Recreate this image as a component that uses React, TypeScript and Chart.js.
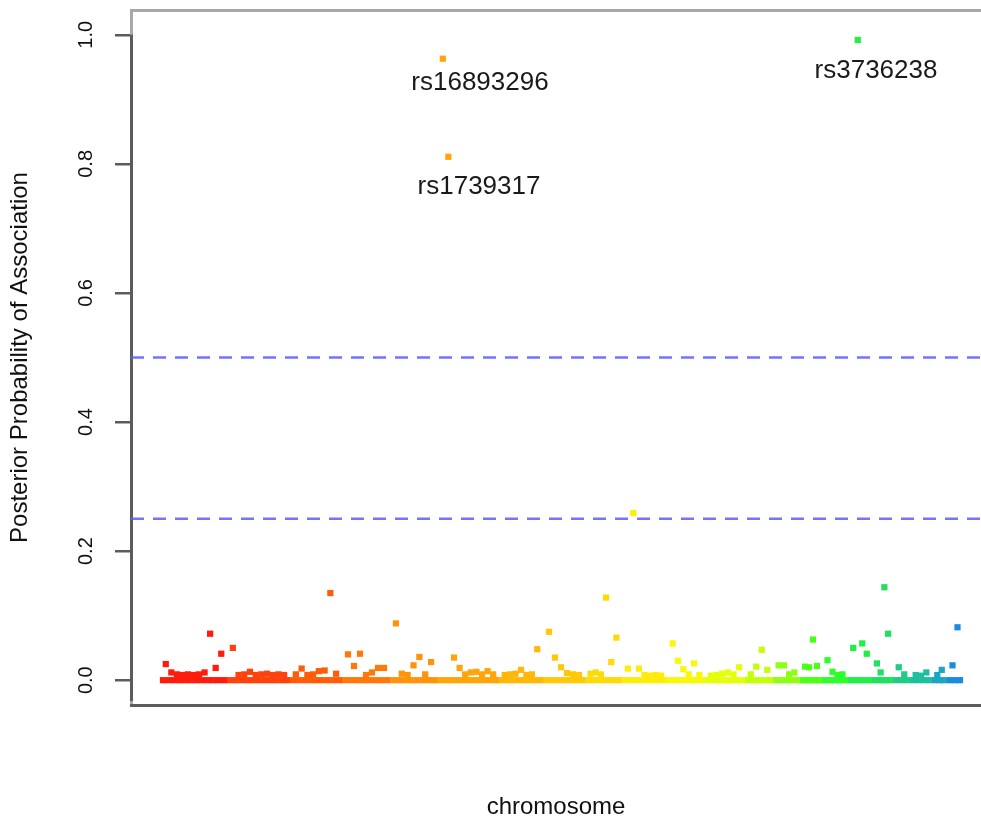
import React, { useEffect, useRef } from 'react';
import { Chart, registerables } from 'chart.js';

Chart.register(...registerables);

// ---- data ----
const chromosomes = ['1','2','3','4','5','6','7','8','9','10','11','12','13','14','15','16','17','18','19','20','21','22'];
const chromLengths = [67, 63, 52, 48, 47, 62, 44, 42, 37, 45, 38, 40, 28, 27, 22, 26, 24, 21, 17, 22, 15, 16];
const chromColors = [
  '#FF1C0C', '#FF420C', '#FF5C0A', '#FF780A', '#FF930A', '#FFA50A', '#FFB80A', '#FFC80A',
  '#FFDA0A', '#FFEC0A', '#F8F80A', '#E4FF0A', '#C4FF0A', '#8EFF12', '#4CFF18', '#2CFF2C',
  '#22EE48', '#20E060', '#1ECC84', '#1EBFA0', '#1CA6C2', '#1A8CE0',
];

const chr1 = [0.000, 0.025, 0.000, 0.012, 0.000, 0.009, 0.000, 0.008, 0.000, 0.009, 0.000, 0.008, 0.000, 0.009, 0.000, 0.012, 0.000, 0.072, 0.000, 0.019, 0.000, 0.041, 0.000];
const chr2 = [0.000, 0.050, 0.000, 0.008, 0.000, 0.009, 0.000, 0.013, 0.000, 0.008, 0.000, 0.009, 0.000, 0.010, 0.000, 0.008, 0.000, 0.009, 0.000, 0.008, 0.000];
const chr3 = [0.000, 0.009, 0.000, 0.018, 0.000, 0.008, 0.000, 0.009, 0.000, 0.014, 0.000, 0.015, 0.000, 0.135, 0.000, 0.010, 0.000];
const chr4 = [0.000, 0.040, 0.000, 0.022, 0.000, 0.041, 0.000, 0.008, 0.000, 0.012, 0.000, 0.019, 0.000, 0.019, 0.000];
const chr5 = [0.000, 0.088, 0.000, 0.010, 0.000, 0.008, 0.000, 0.023, 0.000, 0.036, 0.000, 0.009, 0.000, 0.028, 0.000];
const chr6 = [0.000, 0.963, 0.000, 0.811, 0.000, 0.035, 0.000, 0.019, 0.000, 0.009, 0.000, 0.012, 0.000, 0.013, 0.000, 0.009, 0.000, 0.014, 0.000, 0.009, 0.000];
const chr7 = [0.000, 0.008, 0.000, 0.009, 0.000, 0.010, 0.000, 0.016, 0.000, 0.008, 0.000, 0.009, 0.000, 0.048, 0.000];
const chr8 = [0.000, 0.075, 0.000, 0.035, 0.000, 0.020, 0.000, 0.011, 0.000, 0.009, 0.000, 0.008, 0.000];
const chr9 = [0.000, 0.010, 0.000, 0.012, 0.000, 0.009, 0.000, 0.128, 0.000, 0.028, 0.000, 0.066, 0.000];
const chr10 = [0.000, 0.018, 0.000, 0.259, 0.000, 0.018, 0.000, 0.008, 0.000, 0.007, 0.000, 0.008, 0.000, 0.007, 0.000];
const chr11 = [0.000, 0.057, 0.000, 0.030, 0.000, 0.017, 0.000, 0.009, 0.000, 0.026, 0.000, 0.008, 0.000];
const chr12 = [0.000, 0.007, 0.000, 0.008, 0.000, 0.010, 0.000, 0.012, 0.000, 0.009, 0.000, 0.020, 0.000];
const chr13 = [0.000, 0.009, 0.000, 0.021, 0.000, 0.047, 0.000, 0.016, 0.000];
const chr14 = [0.000, 0.023, 0.000, 0.023, 0.000, 0.009, 0.000, 0.012, 0.000];
const chr15 = [0.000, 0.021, 0.000, 0.020, 0.000, 0.063, 0.000, 0.022, 0.000];
const chr16 = [0.000, 0.031, 0.000, 0.013, 0.000, 0.008, 0.000, 0.009, 0.000];
const chr17 = [0.000, 0.050, 0.000, 0.992, 0.000, 0.057, 0.000, 0.041, 0.000];
const chr18 = [0.000, 0.026, 0.000, 0.012, 0.000, 0.144, 0.000, 0.072, 0.000];
const chr19 = [0.000, 0.020, 0.000, 0.009, 0.000];
const chr20 = [0.000, 0.008, 0.000, 0.007, 0.000, 0.012, 0.000];
const chr21 = [0.000, 0.008, 0.000, 0.016, 0.000];
const chr22 = [0.000, 0.023, 0.000, 0.082, 0.000];

const chromValues = [chr1, chr2, chr3, chr4, chr5, chr6, chr7, chr8, chr9, chr10, chr11,
  chr12, chr13, chr14, chr15, chr16, chr17, chr18, chr19, chr20, chr21, chr22];

const thresholds = [0.5, 0.25];
const yTicks = [0, 0.2, 0.4, 0.6, 0.8, 1.0];

const labelTexts = ['rs16893296', 'rs1739317', 'rs3736238'];
const labelPositions = [320, 319, 716];
const labelValues = [0.926, 0.764, 0.944];

// ---- layout constants ----
const X_MIN = -29;
const X_MAX = 821;
const Y_MIN = -0.04;
const Y_MAX = 1.04;
const FONT = '"Liberation Sans", Arial, Helvetica, sans-serif';

function buildDatasets() {
  const sets: any[] = [];
  let start = 0;
  chromValues.forEach((vals, c) => {
    const len = chromLengths[c];
    const n = vals.length;
    const step = n > 1 ? (len - 6) / (n - 1) : 0;
    sets.push({
      label: 'chr' + chromosomes[c],
      data: vals.map((v, j) => ({ x: start + 3 + j * step, y: v })),
      backgroundColor: chromColors[c],
      borderWidth: 0,
      pointStyle: 'rect',
      pointRadius: 4.4,
      pointHoverRadius: 4.4,
      order: 1,
    });
    start += len;
  });
  thresholds.forEach((t) => {
    sets.push({
      label: 'threshold ' + t,
      data: [{ x: X_MIN, y: t }, { x: X_MAX, y: t }],
      showLine: true,
      borderColor: 'rgba(90,90,255,0.85)',
      borderWidth: 2.5,
      borderDash: [13, 9],
      pointRadius: 0,
      order: 2,
    });
  });
  return sets;
}

const framePlugin = {
  id: 'frame',
  beforeDatasetsDraw(chart: any) {
    const { ctx, chartArea } = chart;
    const { left, top, right, bottom } = chartArea;
    const y = chart.scales.y;
    ctx.save();
    ctx.lineWidth = 3;
    ctx.strokeStyle = '#a8a8a8';
    ctx.beginPath();
    ctx.moveTo(left + 0.5, bottom);
    ctx.lineTo(left + 0.5, top + 1.5);
    ctx.lineTo(right, top + 1.5);
    ctx.stroke();
    ctx.strokeStyle = '#5c5c5c';
    ctx.beginPath();
    ctx.moveTo(left + 0.5, y.getPixelForValue(1.0));
    ctx.lineTo(left + 0.5, bottom - 5);
    ctx.stroke();
    ctx.beginPath();
    ctx.moveTo(left - 1, bottom - 0.5);
    ctx.lineTo(right, bottom - 0.5);
    ctx.stroke();
    ctx.restore();
  },
};

const labelPlugin = {
  id: 'snpLabels',
  afterDatasetsDraw(chart: any) {
    const { ctx, scales } = chart;
    ctx.save();
    ctx.font = '26px ' + FONT;
    ctx.fillStyle = '#1a1a1a';
    ctx.textAlign = 'center';
    ctx.textBaseline = 'middle';
    labelTexts.forEach((t, i) => {
      ctx.fillText(t, scales.x.getPixelForValue(labelPositions[i]), scales.y.getPixelForValue(labelValues[i]));
    });
    ctx.restore();
  },
};

export default function App() {
  const ref = useRef<HTMLCanvasElement | null>(null);
  useEffect(() => {
    if (!ref.current) return;
    const chart = new Chart(ref.current, {
      type: 'scatter',
      data: { datasets: buildDatasets() },
      options: {
        responsive: false,
        maintainAspectRatio: false,
        devicePixelRatio: 1,
        animation: false,
        layout: { autoPadding: false, padding: { top: 9, right: 0, bottom: 0, left: 0 } },
        plugins: {
          legend: { display: false },
          tooltip: { enabled: false },
        },
        scales: {
          x: {
            type: 'linear',
            min: X_MIN,
            max: X_MAX,
            ticks: { display: false },
            grid: { display: false },
            border: { display: false },
            title: {
              display: true,
              text: 'chromosome',
              color: '#111',
              font: { family: FONT, size: 24, lineHeight: 1 },
              padding: { top: 0, bottom: 0 },
            },
            afterFit: (s: any) => {
              s.height = 113;
              s.paddingLeft = 0;
              s.paddingRight = 0;
            },
          },
          y: {
            type: 'linear',
            min: Y_MIN,
            max: Y_MAX,
            afterBuildTicks: (s: any) => {
              s.ticks = yTicks.map((v) => ({ value: v }));
            },
            ticks: {
              minRotation: 90,
              maxRotation: 90,
              crossAlign: 'center',
              padding: 15,
              color: '#111',
              font: { family: FONT, size: 20 },
              callback: (v: any) => Number(v).toFixed(1),
            },
            grid: {
              drawOnChartArea: false,
              drawTicks: true,
              tickLength: 16,
              color: '#5c5c5c',
              lineWidth: 2.5,
            },
            border: { display: false },
            title: {
              display: true,
              text: 'Posterior Probability of Association',
              color: '#111',
              font: { family: FONT, size: 24, lineHeight: 1.2 },
              padding: { top: 6, bottom: 0 },
            },
            afterFit: (s: any) => {
              s.width = 131;
              s.paddingTop = 0;
              s.paddingBottom = 0;
            },
          },
        },
      },
      plugins: [framePlugin, labelPlugin],
    } as any);
    return () => chart.destroy();
  }, []);

  return (
    <div style={{ position: 'fixed', left: 0, top: 0, width: 981, height: 819, background: '#fff' }}>
      <canvas ref={ref} width={981} height={819} style={{ display: 'block' }} />
    </div>
  );
}
